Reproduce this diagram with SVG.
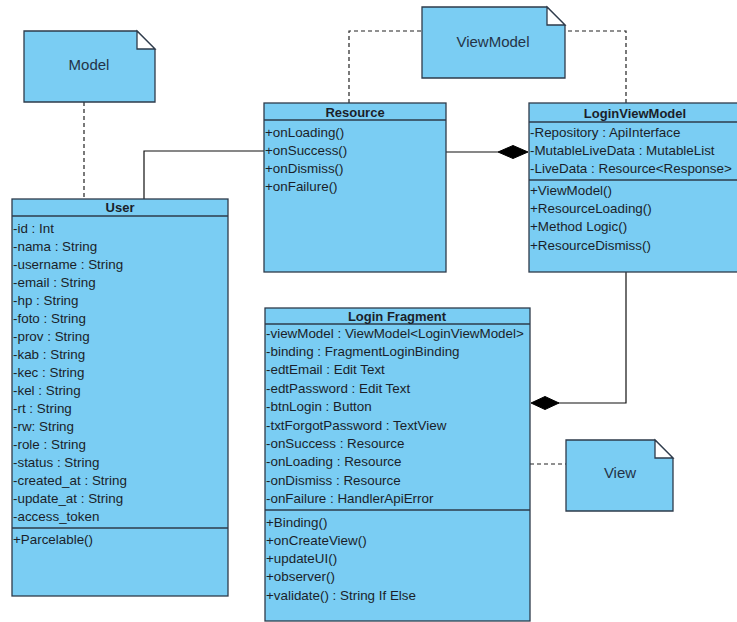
<svg xmlns="http://www.w3.org/2000/svg" width="737" height="622" viewBox="0 0 737 622">
<style>
.box{fill:#7ACDF3;stroke:#2E3B4B;stroke-width:1.3}
.div{stroke:#2E3B4B;stroke-width:1.3}
.fold{fill:#FFFFFF;stroke:#2E3B4B;stroke-width:1.3}
.t{font-family:"Liberation Sans",Arial,sans-serif;font-size:13.4px;fill:#1A1F2A}
.h{font-family:"Liberation Sans",Arial,sans-serif;font-size:13px;font-weight:bold;fill:#1A1F2A;text-anchor:middle}
.n{font-family:"Liberation Sans",Arial,sans-serif;font-size:15px;fill:#243448;text-anchor:middle}
.solid{fill:none;stroke:#111;stroke-width:1.2}
.dash{fill:none;stroke:#222;stroke-width:1.2;stroke-dasharray:4,3}
.dia{fill:#000;stroke:#000;stroke-width:1}
</style>
<rect width="737" height="622" fill="#FFFFFF"/>
<g id="connectors">
<path class="dash" d="M84 102 V199"/>
<path class="solid" d="M144 199 V151 H264"/>
<path class="dash" d="M349 103 V31 H422"/>
<path class="dash" d="M626 103 V31 H565"/>
<path class="solid" d="M446 152 H498"/>
<polygon class="dia" points="498,152 513,145.5 528,152 513,158.5"/>
<path class="solid" d="M626 272 V403 H558"/>
<polygon class="dia" points="531,403 545,396.5 559,403 545,409.5"/>
<path class="dash" d="M530 464 H566"/>
</g>
<g id="note-model">
<path class="box" d="M24 31 H137 L155 49 V102 H24 Z"/>
<path class="fold" d="M137 31 V49 H155 Z"/>
<text class="n" x="89" y="69.5">Model</text>
</g>
<g id="note-viewmodel">
<path class="box" d="M422 7 H547 L565 25 V78 H422 Z"/>
<path class="fold" d="M547 7 V25 H565 Z"/>
<text class="n" x="493" y="46.5">ViewModel</text>
</g>
<g id="note-view">
<path class="box" d="M566 440 H655 L673 458 V511 H566 Z"/>
<path class="fold" d="M655 440 V458 H673 Z"/>
<text class="n" x="620" y="477.5">View</text>
</g>
<g id="class-user">
<rect class="box" x="12" y="199" width="216" height="397"/>
<line class="div" x1="12" y1="216" x2="228" y2="216"/>
<line class="div" x1="12" y1="528" x2="228" y2="528"/>
<text class="h" x="120" y="212">User</text>
<text class="t" x="13" y="232.5">-id : Int</text>
<text class="t" x="13" y="250.5">-nama : String</text>
<text class="t" x="13" y="268.5">-username : String</text>
<text class="t" x="13" y="286.5">-email : String</text>
<text class="t" x="13" y="304.5">-hp : String</text>
<text class="t" x="13" y="322.5">-foto : String</text>
<text class="t" x="13" y="340.5">-prov : String</text>
<text class="t" x="13" y="358.5">-kab : String</text>
<text class="t" x="13" y="376.5">-kec : String</text>
<text class="t" x="13" y="394.5">-kel : String</text>
<text class="t" x="13" y="412.5">-rt : String</text>
<text class="t" x="13" y="430.5">-rw: String</text>
<text class="t" x="13" y="448.5">-role : String</text>
<text class="t" x="13" y="466.5">-status : String</text>
<text class="t" x="13" y="484.5">-created_at : String</text>
<text class="t" x="13" y="502.5">-update_at : String</text>
<text class="t" x="13" y="520.5">-access_token</text>
<text class="t" x="13" y="543.5">+Parcelable()</text>
</g>
<g id="class-resource">
<rect class="box" x="264" y="103" width="182" height="169"/>
<line class="div" x1="264" y1="120" x2="446" y2="120"/>
<text class="h" x="355" y="116.5">Resource</text>
<text class="t" x="265" y="136.5">+onLoading()</text>
<text class="t" x="265" y="154.5">+onSuccess()</text>
<text class="t" x="265" y="172.5">+onDismiss()</text>
<text class="t" x="265" y="190.5">+onFailure()</text>
</g>
<g id="class-loginviewmodel">
<rect class="box" x="529" y="103" width="214" height="169"/>
<line class="div" x1="529" y1="122" x2="743" y2="122"/>
<line class="div" x1="529" y1="180" x2="743" y2="180"/>
<text class="h" x="635" y="117.5">LoginViewModel</text>
<text class="t" x="530" y="136.5">-Repository : ApiInterface</text>
<text class="t" x="530" y="154.5">-MutableLiveData : MutableList</text>
<text class="t" x="530" y="172.5">-LiveData : Resource&lt;Response&gt;</text>
<text class="t" x="530" y="194.5">+ViewModel()</text>
<text class="t" x="530" y="212.5">+ResourceLoading()</text>
<text class="t" x="530" y="231">+Method Logic()</text>
<text class="t" x="530" y="249.5">+ResourceDismiss()</text>
</g>
<g id="class-loginfragment">
<rect class="box" x="265" y="308" width="265" height="313"/>
<line class="div" x1="265" y1="324" x2="530" y2="324"/>
<line class="div" x1="265" y1="510" x2="530" y2="510"/>
<text class="h" x="397" y="320.5">Login Fragment</text>
<text class="t" x="266" y="337.5">-viewModel : ViewModel&lt;LoginViewModel&gt;</text>
<text class="t" x="266" y="355.9">-binding : FragmentLoginBinding</text>
<text class="t" x="266" y="374.3">-edtEmail : Edit Text</text>
<text class="t" x="266" y="392.7">-edtPassword : Edit Text</text>
<text class="t" x="266" y="411.1">-btnLogin : Button</text>
<text class="t" x="266" y="429.5">-txtForgotPassword : TextView</text>
<text class="t" x="266" y="447.9">-onSuccess : Resource</text>
<text class="t" x="266" y="466.3">-onLoading : Resource</text>
<text class="t" x="266" y="484.7">-onDismiss : Resource</text>
<text class="t" x="266" y="503.1">-onFailure : HandlerApiError</text>
<text class="t" x="266" y="526.5">+Binding()</text>
<text class="t" x="266" y="544.8">+onCreateView()</text>
<text class="t" x="266" y="563">+updateUI()</text>
<text class="t" x="266" y="581.3">+observer()</text>
<text class="t" x="266" y="599.5">+validate() : String If Else</text>
</g>
</svg>
